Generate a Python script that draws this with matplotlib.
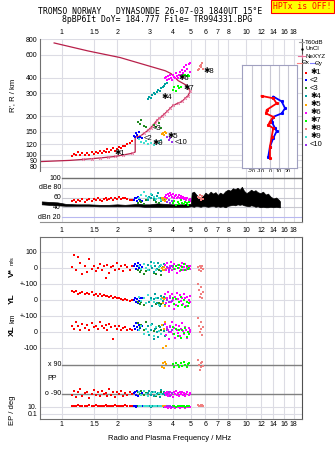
import numpy as np
import matplotlib.pyplot as plt
from matplotlib.lines import Line2D
from matplotlib.ticker import NullLocator

plt.rcParams['font.family'] = ['Liberation Sans', 'DejaVu Sans']

# echo classes: f (MHz), R (km), amplitude (dBe), V* (m/s), YL, XL (km), PP, EP (deg)
f1 = [1.13,1.16,1.19,1.22,1.25,1.29,1.33,1.37,1.41,1.45,1.49,1.53,1.57,1.61,1.65,1.69,1.73,1.77,1.81,1.85,
      1.89,1.94,1.99,2.04,2.09,2.14,2.20,2.26,2.33,2.40]
R1 = [97,101,99,104,100,102,99,103,100,105,101,104,102,107,103,106,104,110,105,108,112,107,111,114,112,117,116,120,122,127]
A1 = [52,55,50,54,53,56,51,55,57,52,56,54,58,55,53,57,59,54,56,60,55,58,57,61,56,59,58,57,55,54]
V1 = [5,80,-10,70,30,-40,10,-25,55,-5,15,-20,0,25,-15,10,-60,20,-30,5,15,-10,30,-5,10,-20,20,5,-10,15]
YL1 = [55,50,58,40,45,52,38,44,35,48,30,40,28,36,25,30,22,28,18,24,15,20,10,15,8,2,5,-2,-8,0]
XL1 = [40,20,60,35,10,50,25,45,15,55,30,40,20,60,35,25,45,10,50,30,-45,40,20,35,15,25,30,10,20,15]
PP1 = [-95,-70,-110,-80,-60,-100,-85,-75,-115,-90,-65,-95,-80,-105,-70,-90,-85,-100,-60,-95,
       -75,-110,-80,-90,-70,-100,-85,-95,-75,-90]
EP1 = [20,25,15,30,20,18,25,22,30,15,20,28,18,25,20,22,30,18,25,20,15,28,22,18,25,20,30,22,18,25]

f2 = [2.47,2.50,2.53,2.56,2.60,2.63,2.67,2.72]
R2 = [140,136,148,142,134,150,138,135]
A2 = [55,60,58,53,62,57,55,52]
V2 = [10,25,-5,15,30,0,20,5]
YL2 = [0,10,-15,5,-20,-5,15,10]
XL2 = [40,20,55,30,10,45,25,35]
PP2 = [-85,-75,-95,-70,-100,-80,-90,-85]
EP2 = [15,20,12,18,25,15,20,18]

f3 = [2.58,2.64,2.70,2.78,2.86,3.15,3.25,3.35,3.45]
R3 = [180,172,185,168,163,170,165,175,160]
A3 = [48,52,50,46,54,55,50,48,52]
V3 = [-15,-25,-10,-40,-20,-30,-35,-12,-45]
YL3 = [-15,-25,-10,-30,-20,-12,-28,-18,-22]
XL3 = [55,30,45,10,60,5,25,40,15]
PP3 = [-80,-90,-70,-95,-85,-75,-100,-90,-80]
EP3 = [20,15,25,18,22,15,20,25,18]

f4 = [2.92,2.98,3.04,3.10,3.16,3.22,3.28,3.34,3.40,3.46,3.52,3.58,3.64,3.70]
R4 = [272,280,276,290,300,295,310,320,315,330,340,345,355,360]
A4 = [55,62,58,66,60,55,64,70,58,52,60,56,54,50]
V4 = [20,-10,35,0,-25,15,-5,30,10,-20,5,25,-15,0]
YL4 = [30,-10,15,-35,5,40,-20,10,-40,25,-5,20,-30,0]
XL4 = [40,-20,10,50,-45,20,0,-30,30,-10,45,5,-25,15]
PP4 = [-85,-70,-95,-80,-100,-75,-90,-85,-110,-65,-90,-80,-95,-75]
EP4 = [15,20,12,25,18,15,22,20,15,18,25,12,20,18]

f5 = [3.50,3.55,3.58,3.62,3.66]
R5 = [145,148,142,150,146]
A5 = [58,55,60,52,56]
V5 = [0,-10,5,-15,-5]
YL5 = [15,-20,5,-40,10]
XL5 = [45,-100,20,60,-90]
PP5 = [80,100,70,110,95]
EP5 = [20,15,25,18,20]

f6 = [3.62,3.68,3.72,3.78,3.82,3.86,3.90,3.95,4.00,4.05,4.10,4.15,4.20,4.25,4.30,4.35,4.40,4.46,4.52,4.58,
      4.64,4.70,4.78,4.86,4.92,4.96]
R6 = [395,402,380,410,390,415,400,385,420,405,395,430,410,400,420,440,415,460,430,480,450,500,470,510,440,520]
A6 = [62,66,60,68,64,70,65,62,67,60,64,66,58,62,65,60,63,58,61,56,60,55,58,54,57,52]
V6 = [20,-10,30,0,-25,10,35,-15,5,25,-5,15,-30,20,0,-20,10,30,-10,5,25,-15,0,15,-5,10]
YL6 = [40,-20,10,50,-40,25,-10,35,0,-55,20,-30,45,5,-15,30,-5,15,-25,40,10,-35,20,0,-10,25]
XL6 = [50,-20,30,10,-45,40,0,60,-10,25,-35,45,15,-5,35,-25,20,55,5,-15,30,10,-40,25,0,15]
PP6 = [-85,-95,-80,-100,-90,-75,-95,-85,-110,-80,-90,-70,-95,-85,-100,-80,-90,-75,-95,-85,-105,-90,-80,-95,-85,-90]
EP6 = [10,8,12,6,10,9,7,11,8,10,6,12,9,8,10,7,11,9,8,10,6,9,12,8,10,9]

f7 = [4.00,4.08,4.16,4.25,4.34,4.42,4.50,4.58,4.66,4.74,4.82,4.90]
R7 = [320,335,315,345,330,340,410,415,420,412,418,408]
A7 = [48,52,45,50,47,54,49,46,51,48,44,50]
V7 = [10,-5,15,0,20,-10,5,25,-15,10,-5,0]
YL7 = [10,-25,5,-40,-10,20,-30,0,-45,-15,-35,-20]
XL7 = [30,-10,20,-25,10,-40,15,-5,25,-30,0,-15]
PP7 = [95,80,105,90,75,100,85,110,90,80,95,100]
EP7 = [15,20,12,18,25,15,20,18,12,22,15,20]

f8 = [5.50,5.55,5.60,5.65,5.70,5.75,5.80]
R8 = [455,470,490,480,505,520,465]
A8 = [62,58,66,54,60,64,56]
V8 = [5,-10,15,0,-20,10,-5]
YL8 = [100,60,20,80,40,10,50]
XL8 = [90,40,0,60,20,-20,30]
PP8 = [120,90,60,100,75,110,85]
EP8 = [30,20,25,35,22,28,25]

f9 = [2.62,2.70,2.78,2.86,2.95,3.05,3.15,3.25,3.35,3.45]
R9 = [132,126,122,128,120,124,118,127,122,130]
A9 = [60,66,72,64,58,68,62,56,60,54]
V9 = [15,-5,25,0,-15,10,30,-10,5,20]
YL9 = [20,-5,10,-20,30,0,-10,15,-30,5]
XL9 = [10,35,-15,20,0,45,-25,30,5,-10]
PP9 = [-80,-95,-70,-90,-100,-85,-75,-95,-85,-90]
EP9 = [18,22,15,20,25,18,20,15,22,18]

f10 = [3.72,3.80,3.88,3.95]
R10 = [138,130,134,126]
A10 = [50,54,48,52]
V10 = [5,-10,0,15]
YL10 = [0,-15,10,-5]
XL10 = [20,0,30,10]
PP10 = [-90,-80,-100,-85]
EP10 = [15,20,18,12]

names = ['✱1', '<2', '<3', '✱4', '✱5', '✱6', '✱7', '✱8', '✱9', '<10']
colors = ['#ff0000', '#0000ff', '#208a20', '#00a0a0', '#ffa500', '#ff00ff', '#00ff00', '#f08080', '#40e0d0', '#9933ee']

# label positions of the classes on the ionogram
lab_f = [1.94, 2.76, 3.12, 3.49, 3.72, 4.27, 4.54, 5.83, 3.12, 4.11]
lab_R = [101, 134, 160, 279, 139, 392, 328, 444, 122, 125]

# NeXYZ real-height profile
prof_f = [0.763,1.11,1.30,1.61,1.94,2.39,2.50,2.50,2.66,2.94,3.12,3.28,3.49,3.72,4.01,4.48,4.83,4.96,4.77,4.27,3.90,3.63,2.07,1.39,0.91]
prof_R = [88,90,91.5,94,96.5,102,104.6,137,139,155,169,185,199,217,242,260,289,311,346,378,430,452,573,645,745]
mk_f = [1.30,1.45,1.61,1.78,1.94,2.15,2.39,2.66,2.80,2.94,3.03,3.12,3.20,3.28,3.38,3.49,3.60,3.72,3.86,4.01,4.25,4.48,4.66,4.83,4.96]
mk_R = [91.5,93,94,95.5,96.5,99,102,139,147,155,162,169,177,185,192,199,208,217,229,242,251,260,275,289,311]

# noise (dBn) band
noise_f = [0.78,0.85,0.95,1.05,1.2,1.4,1.6,1.8,2.0,2.2,2.4,2.6,2.8,3.0,3.3,3.6,4.0,4.4,4.8,5.0,
           5.06,5.2,5.35,5.5,5.65,5.85,6.0,6.2,6.4,6.6,6.8,7.0,7.2,7.45,7.7,7.95,8.2,8.45,8.7,8.95,
           9.2,9.45,9.7,10.0,10.3,10.6,10.9,11.2,11.5,11.9,12.3,12.7,13.1,13.5,14.0,14.5,15.0,15.2]
noise_hi = [52,51,50,47,46,46,45,45,46,45,46,47,46,46,48,47,46,46,47,47,
            70,72,66,62,60,64,70,66,72,68,71,65,70,67,73,76,74,79,77,80,
            76,82,74,69,72,76,73,75,71,69,72,66,68,62,58,60,55,52]
noise_lo = [46,45,44,43,43,43,42,42,42,42,42,42,41,41,41,41,41,41,41,42,
            42,41,43,42,41,43,42,41,42,43,41,42,41,42,40,43,44,45,44,46,
            45,46,44,43,42,44,43,41,42,40,41,40,40,41,40,41,40,40]

# tilt profiles
thx_h = [310,303,288,269,259,249,235,225,216,191,162,128]
thx = [-9.3,3.7,7.4,-3.7,-4.4,3.7,0,-1.9,3.7,1.9,0,0]
thy_h = [308,294,274,259,249,235,216,207,187,162,133]
thy = [3.7,13,16.7,13,3.7,1.9,5.6,7.4,3.7,0,-1.9]

freq_ticks = [1, 1.5, 2, 3, 4, 5, 6, 7, 8, 10, 12, 14, 16, 18]
freq_labels = ['1', '1.5', '2', '3', '4', '5', '6', '7', '8', '10', '12', '14', '16', '18']
R_ticks = [80, 90, 100, 120, 150, 200, 300, 400, 600, 800]

F = [f1, f2, f3, f4, f5, f6, f7, f8, f9, f10]
R = [R1, R2, R3, R4, R5, R6, R7, R8, R9, R10]
A = [A1, A2, A3, A4, A5, A6, A7, A8, A9, A10]
V = [V1, V2, V3, V4, V5, V6, V7, V8, V9, V10]
YL = [YL1, YL2, YL3, YL4, YL5, YL6, YL7, YL8, YL9, YL10]
XL = [XL1, XL2, XL3, XL4, XL5, XL6, XL7, XL8, XL9, XL10]
PP = [PP1, PP2, PP3, PP4, PP5, PP6, PP7, PP8, PP9, PP10]
EP = [EP1, EP2, EP3, EP4, EP5, EP6, EP7, EP8, EP9, EP10]

W, H = 335, 451
FMIN, FMAX = 0.763, 20.0
GRID = '#dcdce4'
MS = 2.1
fig = plt.figure(figsize=(W / 100, H / 100), dpi=100)


def box(x0, y0, x1, y1):
    return [x0 / W, 1 - y1 / H, (x1 - x0) / W, (y1 - y0) / H]


def ftext(x, y, s, **kw):
    fig.text(x / W, 1 - y / H, s, **kw)


def fline(x0, x1, y, **kw):
    fig.add_artist(Line2D([x0 / W, x1 / W], [1 - y / H, 1 - y / H], transform=fig.transFigure, **kw))


def freq_axis(ax):
    ax.set_xscale('log')
    ax.set_xlim(FMIN, FMAX)
    ax.set_xticks(freq_ticks)
    ax.set_xticklabels(freq_labels)
    ax.xaxis.set_minor_locator(NullLocator())
    ax.tick_params(length=0, labelsize=5)
    for x in freq_ticks:
        ax.axvline(x, color=GRID, lw=0.8, zorder=0)


# ---- ionogram
ax = fig.add_axes(box(40, 39, 302, 172))
freq_axis(ax)
ax.set_yscale('log')
ax.set_ylim(73, 800)
ax.set_yticks(R_ticks)
ax.set_yticklabels([str(r) for r in R_ticks])
ax.yaxis.set_minor_locator(NullLocator())
for r in R_ticks:
    ax.axhline(r, color=GRID, lw=0.8, zorder=0)
ax.xaxis.tick_top()
ax.tick_params(axis='x', pad=2)
ax.tick_params(axis='y', pad=2)
for s in ['top', 'bottom']:
    ax.spines[s].set_visible(False)
ax.spines['left'].set_color('#707070')
ax.spines['right'].set_color('#505050')
ax.plot(prof_f, prof_R, color='#b8204a', lw=0.9, zorder=2)
ax.plot(mk_f, mk_R, ls='none', marker='x', ms=2.0, mew=0.6, color='#e8709a', zorder=2)
for i in range(10):
    ax.plot(F[i], R[i], 's', color=colors[i], ms=MS, mew=0, zorder=3)
    ax.text(lab_f[i], lab_R[i], names[i], fontsize=5.5, color='black', va='center', zorder=4)

# tilt inset
axt = fig.add_axes(box(242, 65, 297, 168))
axt.set_facecolor('white')
axt.set_xlim(-31, 30)
axt.set_ylim(100, 400)
axt.set_xticks([-20, -10, 0, 10, 20])
axt.set_xticklabels(['-20', '-10', '0', '10', '20'])
axt.set_yticks([])
axt.tick_params(length=0, labelsize=4, pad=1)
for t in [-20, -10, 0, 10, 20]:
    axt.axvline(t, color='#c8c8d4', lw=0.8, zorder=0)
for s in axt.spines.values():
    s.set_color('#a0a0c0')
axt.set_xlabel('Tilt / deg', fontsize=4, labelpad=0)
axt.plot(thy, thy_h, color='#0000ff', lw=1.3, marker='s', ms=1.2)
axt.plot(thx, thx_h, color='#ff0000', lw=1.3, marker='s', ms=1.2)

# ---- amplitude / noise panel
axn = fig.add_axes(box(40, 172, 302, 222))
freq_axis(axn)
axn.set_ylim(9.8, 112.3)
axn.set_xticklabels([])
axn.set_yticks([])
for s in ['top', 'left']:
    axn.spines[s].set_visible(False)
axn.spines['bottom'].set_color('#909090')
axn.spines['right'].set_color('#505050')
lx = (62 - 40) / 262
axn.axhline(100, xmin=lx, color='#707070', lw=1.0, zorder=1)
for d in [80, 60, 40]:
    axn.axhline(d, xmin=lx, color='#c8c8d0', lw=0.8, zorder=0)
axn.axhline(20, xmin=lx, color='#b8b8f0', lw=0.8, zorder=0)
ytr = axn.get_yaxis_transform()
for d, t in [(100, '100'), (80, 'dBe 80'), (60, '60'), (40, '40'), (20, 'dBn 20')]:
    axn.text(lx - 0.004, d, t, transform=ytr, ha='right', va='center', fontsize=5)
axn.fill_between(noise_f, noise_lo, noise_hi, color='black', lw=0.5, zorder=1)
for i in range(10):
    axn.plot(F[i], A[i], 's', color=colors[i], ms=MS, mew=0, zorder=3)

# ---- lower panel in pixel rows
S = 0.16
V0, YL0, XL0 = 268, 300, 332


def pp_y(p):
    return 394 - (np.asarray(p) + 90) * 29 / 180


def ep_y(e):
    return 410.5 - 3.5 * np.log10(e)


axl = fig.add_axes(box(40, 237, 302, 419))
freq_axis(axl)
axl.set_ylim(419, 237)
yt = [V0 - 100 * S, V0, V0 + 100 * S, YL0, YL0 + 100 * S, XL0, XL0 + 100 * S, ep_y(10), ep_y(0.1)]
axl.set_yticks(yt)
axl.set_yticklabels(['100', '0', '+-100', '0', '+-100', '0', '-100', '10.', '0.1'])
for y in yt:
    axl.axhline(y, color=GRID, lw=0.8, zorder=0)
axl.tick_params(axis='y', pad=2)
axl.tick_params(axis='x', labeltop=True, labelbottom=True, pad=1.8)
for s in axl.spines.values():
    s.set_color('#707070')
axl.spines['right'].set_color('#505050')
axl.axhline(pp_y(90), xmin=lx, color='#808080', lw=1.0, zorder=1)
axl.axhline(pp_y(-90), xmin=lx, color='#808080', lw=1.0, zorder=1)
ytl = axl.get_yaxis_transform()
axl.text(lx - 0.004, pp_y(90), 'x 90', transform=ytl, ha='right', va='center', fontsize=5)
axl.text(lx - 0.004, pp_y(-90), 'o -90', transform=ytl, ha='right', va='center', fontsize=5)
axl.text(0.027, 379, 'PP', transform=ytl, ha='left', va='center', fontsize=5)
for i in range(10):
    kw = dict(ls='none', marker='s', color=colors[i], ms=MS, mew=0, zorder=3)
    axl.plot(F[i], V0 - np.asarray(V[i]) * S, **kw)
    axl.plot(F[i], YL0 - np.asarray(YL[i]) * S, **kw)
    axl.plot(F[i], XL0 - np.asarray(XL[i]) * S, **kw)
    axl.plot(F[i], pp_y(PP[i]), **kw)
    axl.plot(F[i], ep_y(EP[i]), **kw)

# axis titles
ftext(13, 95, "R', R / km", rotation=90, ha='center', va='center', fontsize=5.5)
ftext(12, 273, 'V*', rotation=90, ha='center', va='center', fontsize=6, fontweight='bold')
ftext(12, 261, 'm/s', rotation=90, ha='center', va='center', fontsize=4)
ftext(12, 299, 'YL', rotation=90, ha='center', va='center', fontsize=6, fontweight='bold')
ftext(13, 318, 'km', rotation=90, ha='center', va='center', fontsize=5)
ftext(12, 331, 'XL', rotation=90, ha='center', va='center', fontsize=6, fontweight='bold')
ftext(12, 410, 'EP / deg', rotation=90, ha='center', va='center', fontsize=5.5)
ftext(170, 439, 'Radio and Plasma Frequency / MHz', ha='center', va='center', fontsize=5.5)

# header
mono = 'DejaVu Sans Mono'
ftext(150, 12, 'TROMSO NORWAY   DYNASONDE 26-07-03 1840UT 15°E', ha='center', va='center',
      family=mono, fontsize=5.9)
ftext(157, 20, '8pBP6It DoY= 184.777 File= TR994331.BPG', ha='center', va='center',
      family=mono, fontsize=5.9)
ftext(302.5, 6.5, 'HPTx is OFF!', ha='center', va='center', family=mono, fontsize=5.9, color='red',
      bbox=dict(boxstyle='square,pad=0.25', facecolor='#ffff00', edgecolor='red', lw=0.8))

# legend at right
fline(299, 304, 42, color='#a0a0a0', lw=0.8)
ftext(305, 42, 'T60dB', va='center', fontsize=4.5)
fig.add_artist(Line2D([302 / W], [1 - 49 / H], transform=fig.transFigure, marker='.', ms=1.5, color='black'))
ftext(306, 49, 'UnCl', va='center', fontsize=4.5)
fline(298, 305, 56, color='#e8709a', lw=0.8)
fig.add_artist(Line2D([301.5 / W], [1 - 56 / H], transform=fig.transFigure, marker='+', ms=3, mew=0.7,
                      color='#e8709a'))
ftext(305, 56, 'NeXYZ', va='center', fontsize=4.5)
fline(297, 302, 63, color='#ff8080', lw=0.8)
ftext(302, 63, 'Θx', va='center', fontsize=4.5)
fline(310, 315, 63, color='#8080ff', lw=0.8)
ftext(315, 63, 'Θy', va='center', fontsize=4.5)
leg_y = [72.7, 80, 88.3, 96, 104.5, 112.7, 121, 129, 136.7, 145]
for i in range(10):
    fig.add_artist(Line2D([306 / W], [1 - leg_y[i] / H], transform=fig.transFigure, marker='s', ms=2,
                          mew=0, color=colors[i]))
    ftext(310, leg_y[i], names[i], va='center', fontsize=5.5)

fig.savefig('out.png', dpi=100)
